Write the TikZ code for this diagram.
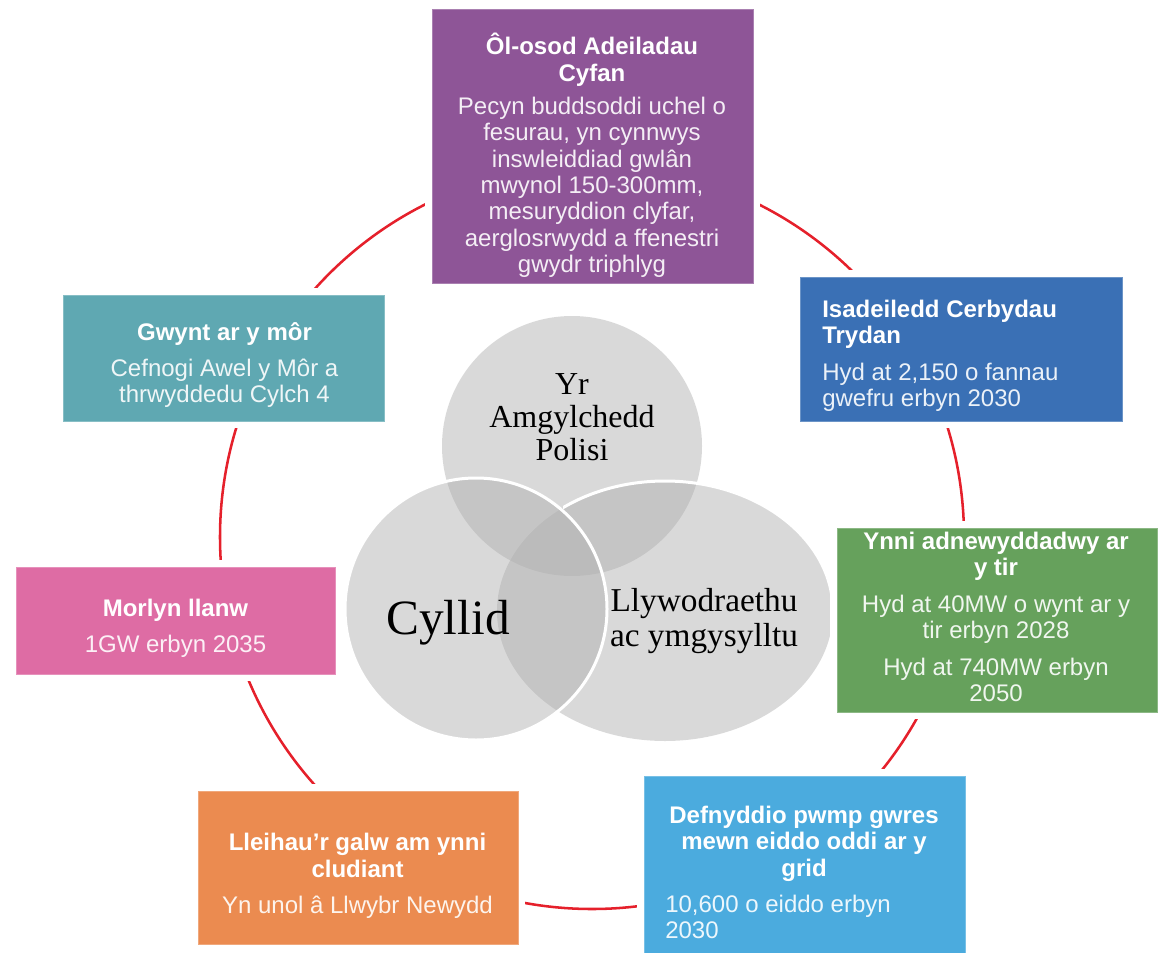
\documentclass[tikz,border=0pt]{standalone}
\usepackage{fontspec}
\setmainfont{Liberation Sans}
\newfontfamily\vennfont{Liberation Serif}
\definecolor{purpc}{HTML}{8E5597}
\definecolor{bluec}{HTML}{3A70B5}
\definecolor{greenc}{HTML}{66A15C}
\definecolor{lbluec}{HTML}{4BABDE}
\definecolor{orangec}{HTML}{EB8B50}
\definecolor{pinkc}{HTML}{DE6CA4}
\definecolor{tealc}{HTML}{5FA8B2}
\definecolor{ringc}{HTML}{E5202B}
\definecolor{vgray}{RGB}{175,175,175}
\newcommand\boxtitle[1]{\textcolor{white}{\bfseries #1}}
\begin{document}
\begin{tikzpicture}[x=0.75pt,y=-0.75pt,
  box/.style={rectangle, inner sep=0pt, fill=#1, draw=#1!75!white, line width=0.75pt,
              preaction={draw=white, line width=10.5pt}},
  txt/.style={inner sep=0pt, align=center, font=\fontsize{18}{19.8}\selectfont, text=white!90!#1},
  vennfill/.style={fill=vgray, fill opacity=0.47},
  vennline/.style={draw=white, line width=2.25pt},
  venntxt/.style={inner sep=0pt, align=center, text=black},
  ring/.style={draw=ringc, line width=1.9pt}]
\useasboundingbox (0,0) rectangle (1164,953);

% cycle ring
\draw[ring] (592,537) circle[radius=372];

% Venn diagram
\fill[vennfill] (572,446) circle[radius=130];
\fill[vennfill] (665,611) ellipse[x radius=168, y radius=130];
\fill[vennfill] (476,609) circle[radius=131];
\begin{scope}
  \clip (563,400) rectangle (900,611);
  \draw[vennline] (665,611) ellipse[x radius=168, y radius=130];
\end{scope}
\draw[vennline] (476,609) circle[radius=131];

\node[venntxt, font=\vennfont\fontsize{24}{24.75}\selectfont] (v1) at (572,417) {Yr\\Amgylchedd\\Polisi};
\node[venntxt, anchor=base, font=\vennfont\fontsize{37}{40}\selectfont] (v2) at (448,634) {Cyllid};
\node[venntxt, font=\vennfont\fontsize{25}{26.25}\selectfont] (v3) at (704,621) {Llywodraethu\\ac ymgysylltu};

% boxes
\node[box=purpc,  minimum width=321*0.75pt, minimum height=274*0.75pt] (b1) at (592.5,146) {};
\node[box=bluec,  minimum width=322*0.75pt, minimum height=144*0.75pt] (b2) at (961,349) {};
\node[box=greenc, minimum width=320*0.75pt, minimum height=184*0.75pt] (b3) at (997,620) {};
\node[box=lbluec, minimum width=321*0.75pt, minimum height=182*0.75pt] (b4) at (804.5,867) {};
\node[box=orangec,minimum width=320*0.75pt, minimum height=153*0.75pt] (b5) at (358,867.5) {};
\node[box=pinkc,  minimum width=319*0.75pt, minimum height=107*0.75pt] (b6) at (175.5,620.5) {};
\node[box=tealc,  minimum width=321*0.75pt, minimum height=126*0.75pt] (b7) at (223.5,358) {};

% box texts
\node[txt=purpc] (t1) at (592,155.5) {\boxtitle{Ôl-osod Adeiladau}\\\boxtitle{Cyfan}\\[5pt]Pecyn buddsoddi uchel o\\fesurau, yn cynnwys\\inswleiddiad gwlân\\mwynol 150-300mm,\\mesuryddion clyfar,\\aerglosrwydd a ffenestri\\gwydr triphlyg};
\node[txt=bluec, align=left, anchor=west] (t2) at (822,355.8) {\boxtitle{Isadeiledd Cerbydau}\\\boxtitle{Trydan}\\[7.5pt]Hyd at 2,150 o fannau\\gwefru erbyn 2030};
\node[txt=greenc] (t3) at (996,617) {\boxtitle{Ynni adnewyddadwy ar}\\\boxtitle{y tir}\\[7.5pt]Hyd at 40MW o wynt ar y\\tir erbyn 2028\\[7.5pt]Hyd at 740MW erbyn\\2050};
\node[txt=lbluec] (t4a) at (804,843.8) {\boxtitle{Defnyddio pwmp gwres}\\\boxtitle{mewn eiddo oddi ar y}\\\boxtitle{grid}};
\node[txt=lbluec, align=left, anchor=west] (t4b) at (665,916.8) {10,600 o eiddo erbyn\\2030};
\node[txt=orangec] (t5) at (357.5,875.8) {\boxtitle{Lleihau’r galw am ynni}\\\boxtitle{cludiant}\\[7.5pt]Yn unol â Llwybr Newydd};
\node[txt=pinkc] (t6) at (175.5,628) {\boxtitle{Morlyn llanw}\\[7.5pt]1GW erbyn 2035};
\node[txt=tealc] (t7) at (224.5,365) {\boxtitle{Gwynt ar y môr}\\[7.5pt]Cefnogi Awel y Môr a\\thrwyddedu Cylch 4};
\end{tikzpicture}
\end{document}
